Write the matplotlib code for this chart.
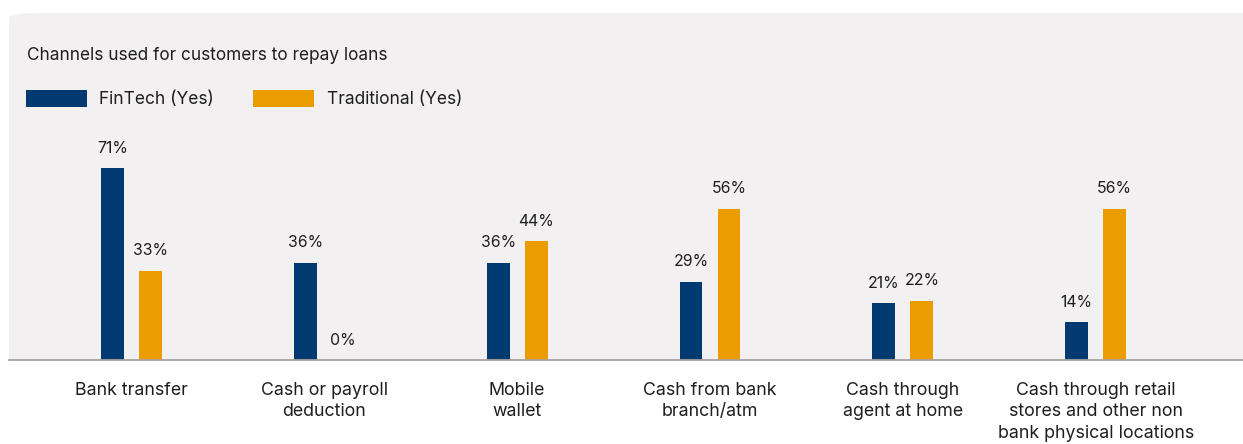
import matplotlib
matplotlib.use("Agg")
import matplotlib.pyplot as plt
from matplotlib.patches import FancyBboxPatch, Rectangle
import numpy as np

# ---- data ----
categories = [
    "Bank transfer",
    "Cash or payroll\ndeduction",
    "Mobile\nwallet",
    "Cash from bank\nbranch/atm",
    "Cash through\nagent at home",
    "Cash through retail\nstores and other non\nbank physical locations",
]
series_names = ["FinTech (Yes)", "Traditional (Yes)"]
fintech = [71, 36, 36, 29, 21, 14]
traditional = [33, 0, 44, 56, 22, 56]
title = "Channels used for customers to repay loans"

# ---- style ----
W, H = 1243, 444
DPI = 100
NAVY = "#003a70"
ORANGE = "#eb9c00"
PANEL = "#f2f0f1"
AXIS = "#a9a39f"
TEXT = "#1e1e1e"
FONT = ["Inter", "DejaVu Sans"]
plt.rcParams["font.family"] = FONT

fig = plt.figure(figsize=(W / DPI, H / DPI), dpi=DPI)
fig.patch.set_facecolor("white")

def fx(px):
    return px / W

def fy(py):
    return 1 - py / H

# panel background with rounded top-left corner
panel_left, panel_top, panel_bottom = 9, 13, 360
fig.patches.append(FancyBboxPatch((fx(panel_left), fy(panel_bottom)),
                                  fx(W + 40 - panel_left), (panel_bottom - panel_top) / H,
                                  boxstyle="round,pad=0,rounding_size=0.03",
                                  transform=fig.transFigure, facecolor=PANEL,
                                  edgecolor="none", zorder=0, mutation_aspect=H / W))
fig.patches.append(Rectangle((fx(panel_left), fy(panel_bottom)), fx(W - panel_left),
                             40 / H, transform=fig.transFigure, facecolor=PANEL,
                             edgecolor="none", zorder=0))

ax = fig.add_axes([fx(panel_left), fy(panel_bottom), fx(W - panel_left),
                   (panel_bottom - panel_top) / H])
ax.patch.set_alpha(0)
ax.set_zorder(2)

x = np.arange(len(categories))
bw = 0.119
off = 0.0985
b1 = ax.bar(x - off, fintech, bw, color=NAVY, zorder=2)
b2 = ax.bar(x + off, traditional, bw, color=ORANGE, zorder=2)

for bars, vals in ((b1, fintech), (b2, traditional)):
    for rect, v in zip(bars, vals):
        ax.annotate(f"{v}%", (rect.get_x() + rect.get_width() / 2, rect.get_height()),
                    xytext=(0, 9), textcoords="offset points", ha="center", va="bottom",
                    fontsize=11.4, color=TEXT)

ax.set_xlim(-0.635, 5.764)
ax.set_ylim(0, 128.5)
ax.set_xticks(x)
ax.set_xticklabels(categories, fontsize=12.8, color=TEXT, linespacing=1.32)
ax.tick_params(axis="x", length=0, pad=16)
ax.set_yticks([])
for s in ("top", "left", "right"):
    ax.spines[s].set_visible(False)
ax.spines["bottom"].set_color(AXIS)
ax.spines["bottom"].set_linewidth(1.3)

# title
fig.text(fx(27), fy(56), title, fontsize=12.4, color=TEXT, ha="left", va="center")

# legend
leg_items = [(series_names[0], NAVY, 26, 99), (series_names[1], ORANGE, 253, 327)]
for name, col, rx, tx in leg_items:
    fig.patches.append(Rectangle((fx(rx), fy(107)), fx(61), 17 / H,
                                 transform=fig.transFigure, facecolor=col,
                                 edgecolor="none", zorder=3))
    fig.text(fx(tx), fy(99), name, fontsize=12.5, color=TEXT, ha="left", va="center")

fig.savefig("out.png", dpi=DPI, facecolor="white")
